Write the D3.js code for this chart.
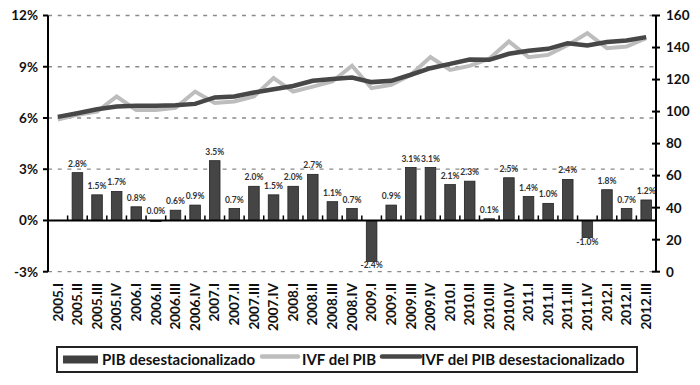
<!DOCTYPE html>
<html>
<head>
<meta charset="utf-8">
<script src="https://cdn.jsdelivr.net/npm/d3@7/dist/d3.min.js"></script>
<style>
  body { margin: 0; background: #fff; }
  svg { display: block; font-family: Lato, 'Open Sans', sans-serif; }
  .tick-label { font-weight: bold; font-size: 13.5px; fill: #111; }
  .bar-label { font-size: 8.5px; fill: #333; font-weight: bold; }
  .legend-text { font-weight: bold; font-size: 15px; fill: #111; }
</style>
</head>
<body>
<svg id="chart" width="700" height="385"></svg>
<script>
'use strict'

// quarters on the x axis
const quarters = [
  '2005.I', '2005.II', '2005.III', '2005.IV',
  '2006.I', '2006.II', '2006.III', '2006.IV',
  '2007.I', '2007.II', '2007.III', '2007.IV',
  '2008.I', '2008.II', '2008.III', '2008.IV',
  '2009.I', '2009.II', '2009.III', '2009.IV',
  '2010.I', '2010.II', '2010.III', '2010.IV',
  '2011.I', '2011.II', '2011.III', '2011.IV',
  '2012.I', '2012.II', '2012.III'
]

// quarterly growth, seasonally adjusted (%), left axis
const pibDesest = [
  null, 2.8, 1.5, 1.7,
  0.8, 0.0, 0.6, 0.9,
  3.5, 0.7, 2.0, 1.5,
  2.0, 2.7, 1.1, 0.7,
  -2.4, 0.9, 3.1, 3.1,
  2.1, 2.3, 0.1, 2.5,
  1.4, 1.0, 2.4, -1.0,
  1.8, 0.7, 1.2
]

// volume index, raw (right axis)
const ivfPib = [
  95, 98, 100, 109.4,
  101, 101, 102.3, 112.5,
  105.4, 106.3, 109.4, 120.9,
  112.5, 115.6, 118.8, 128.6,
  114.6, 116.7, 123, 134,
  126, 128.5, 133, 143.8,
  134, 135.4, 141.5, 149,
  139.6, 140.6, 145.9
]

// volume index, seasonally adjusted (right axis)
const ivfPibDesest = [
  96.7, 99, 101.5, 103.1,
  103.6, 103.6, 104, 104.8,
  108.8, 109.4, 111.9, 114,
  116, 119.2, 120.4, 121.3,
  118.4, 119.2, 123, 127.1,
  129.8, 132.5, 132.3, 136.1,
  138, 139.2, 142.7, 141.3,
  143.4, 144.4, 146.5
]

const leftTicks = [-3, 0, 3, 6, 9, 12]
const rightTicks = [0, 20, 40, 60, 80, 100, 120, 140, 160]
const gridTicks = [-3, 3, 6, 9, 12]

const legendItems = ['PIB desestacionalizado', 'IVF del PIB', 'IVF del PIB desestacionalizado']

const svg = d3.select('#chart')
const plotLeft = 48
const plotRight = 656
const plotTop = 15.5
const plotBottom = 271.7

const x = d3.scaleBand()
  .domain(quarters)
  .range([plotLeft, plotRight])
  .paddingInner(0.46)
  .paddingOuter(0.23)

const step = x.step()
const cx = (q) => x(q) + x.bandwidth() / 2

const yL = d3.scaleLinear().domain([-3, 12]).range([plotBottom, plotTop])
const yR = d3.scaleLinear().domain([0, 160]).range([plotBottom, plotTop])

// dashed grid
svg.append('g')
  .selectAll('line')
  .data(gridTicks)
  .enter().append('line')
  .attr('x1', plotLeft)
  .attr('x2', plotRight)
  .attr('y1', d => yL(d))
  .attr('y2', d => yL(d))
  .attr('stroke', '#8a8a8a')
  .attr('stroke-width', 1.3)
  .attr('stroke-dasharray', '4,5.7')

// bars
const barData = quarters.map((q, i) => ({ q, v: pibDesest[i] })).filter(d => d.v !== null)

svg.append('g')
  .selectAll('rect')
  .data(barData)
  .enter().append('rect')
  .attr('x', d => x(d.q))
  .attr('width', x.bandwidth())
  .attr('y', d => Math.min(yL(d.v), yL(0)))
  .attr('height', d => Math.max(Math.abs(yL(d.v) - yL(0)), 1))
  .attr('fill', '#454545')
  .attr('stroke', '#222')
  .attr('stroke-width', 0.8)

svg.append('g')
  .selectAll('text')
  .data(barData)
  .enter().append('text')
  .attr('class', 'bar-label')
  .attr('text-anchor', 'middle')
  .attr('x', d => cx(d.q))
  .attr('y', d => d.v >= 0 ? yL(d.v) - 6 : yL(d.v) + 7)
  .text(d => d.v.toFixed(1) + '%')

// zero line with small ticks between quarters
svg.append('line')
  .attr('x1', plotLeft).attr('x2', plotRight)
  .attr('y1', yL(0)).attr('y2', yL(0))
  .attr('stroke', '#000').attr('stroke-width', 2)

svg.append('g')
  .selectAll('line')
  .data(quarters.slice(1))
  .enter().append('line')
  .attr('x1', d => x(d) - step * 0.23)
  .attr('x2', d => x(d) - step * 0.23)
  .attr('y1', yL(0))
  .attr('y2', yL(0) - 5)
  .attr('stroke', '#000')
  .attr('stroke-width', 1.5)

// lines
const line = d3.line()
  .x((d, i) => cx(quarters[i]))
  .y(d => yR(d))

svg.append('path')
  .datum(ivfPib)
  .attr('d', line)
  .attr('fill', 'none')
  .attr('stroke', '#bdbdbd')
  .attr('stroke-width', 4)

svg.append('path')
  .datum(ivfPibDesest)
  .attr('d', line)
  .attr('fill', 'none')
  .attr('stroke', '#474747')
  .attr('stroke-width', 4.5)

// left axis
const axL = svg.append('g').attr('transform', `translate(${plotLeft},0)`)
axL.append('line')
  .attr('y1', plotTop).attr('y2', plotBottom)
  .attr('stroke', '#000').attr('stroke-width', 2)
axL.selectAll('line.t')
  .data(leftTicks)
  .enter().append('line')
  .attr('class', 't')
  .attr('x1', -5).attr('x2', 0)
  .attr('y1', d => yL(d)).attr('y2', d => yL(d))
  .attr('stroke', '#000').attr('stroke-width', 2)
axL.selectAll('text')
  .data(leftTicks)
  .enter().append('text')
  .attr('class', 'tick-label')
  .attr('text-anchor', 'end')
  .attr('x', -10)
  .attr('y', d => yL(d))
  .attr('dy', '0.36em')
  .text(d => d + '%')

// right axis
const axR = svg.append('g').attr('transform', `translate(${plotRight},0)`)
axR.append('line')
  .attr('y1', plotTop).attr('y2', plotBottom)
  .attr('stroke', '#000').attr('stroke-width', 2)
axR.selectAll('line.t')
  .data(rightTicks)
  .enter().append('line')
  .attr('class', 't')
  .attr('x1', -4).attr('x2', 4)
  .attr('y1', d => yR(d)).attr('y2', d => yR(d))
  .attr('stroke', '#000').attr('stroke-width', 2)
axR.selectAll('text')
  .data(rightTicks)
  .enter().append('text')
  .attr('class', 'tick-label')
  .attr('x', 10)
  .attr('y', d => yR(d))
  .attr('dy', '0.36em')
  .text(d => d)

// rotated quarter labels
svg.append('g')
  .selectAll('text')
  .data(quarters)
  .enter().append('text')
  .attr('class', 'tick-label')
  .attr('text-anchor', 'end')
  .attr('transform', d => `translate(${cx(d) + 4.7},283) rotate(-90)`)
  .text(d => d)

// legend
const lg = svg.append('g')
lg.append('rect')
  .attr('x', 57).attr('y', 347)
  .attr('width', 580).attr('height', 25)
  .attr('fill', '#fff')
  .attr('stroke', '#222')
  .attr('stroke-width', 2)

const ly = 359.5
lg.append('rect')
  .attr('x', 63).attr('y', ly - 4)
  .attr('width', 35).attr('height', 8)
  .attr('fill', '#404040')
lg.append('line')
  .attr('x1', 262).attr('x2', 298)
  .attr('y1', ly - 3).attr('y2', ly - 3)
  .attr('stroke', '#bdbdbd').attr('stroke-width', 4.5)
  .attr('stroke-linecap', 'round')
lg.append('line')
  .attr('x1', 382).attr('x2', 420)
  .attr('y1', ly - 3).attr('y2', ly - 3)
  .attr('stroke', '#474747').attr('stroke-width', 4.5)
  .attr('stroke-linecap', 'round')

const legendX = [102, 302, 421]
lg.selectAll('text')
  .data(legendItems)
  .enter().append('text')
  .attr('class', 'legend-text')
  .attr('x', (d, i) => legendX[i])
  .attr('y', ly)
  .attr('dy', '0.36em')
  .text(d => d)
</script>
</body>
</html>
